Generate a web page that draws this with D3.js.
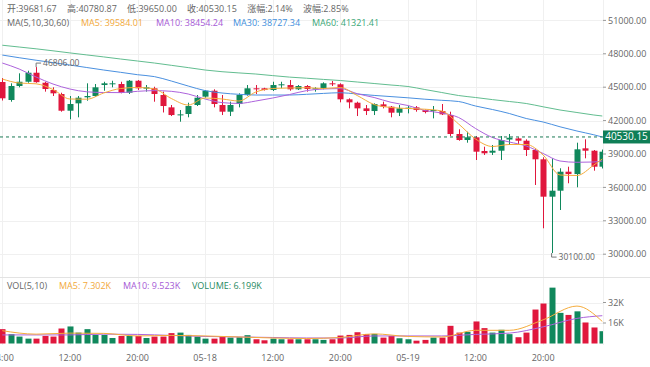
<!DOCTYPE html>
<html><head><meta charset="utf-8">
<script src="https://cdn.jsdelivr.net/npm/d3@7"></script>
<style>
body{margin:0;background:#fff}
svg{display:block}
text{font-family:"Open Sans","Noto Sans CJK SC",sans-serif}
</style>
</head><body>
<svg id="c" width="650" height="367"></svg>
<script>
// ---- data (hourly candles, 05-17 04:00 .. 05-20 03:00) ----
const opens  = [45466,43850,45106,45490,46300,45400,44750,44388,42888,43550,44092,44208,45196,45300,45286,44505,45580,44870,44900,44298,43190,42500,42592,43400,44150,44684,43400,42800,43490,44298,44900,44900,44747,45170,45196,44810,45106,44810,44900,45349,45260,43912,43607,43100,42860,43460,43250,42710,43080,43190,42950,42860,42860,42500,40796,40257,40500,39270,39117,39296,40300,40400,40194,39359,38524,35166,35704,37410,37200,39510,39296,37860];
const highs  = [45825,45349,46247,46480,46806,45490,44990,44505,44208,44208,45349,45286,45490,45580,45490,45645,45645,45196,45043,44600,43400,42950,43607,44298,44747,44810,44298,43700,44450,45196,45196,44950,45490,45490,45645,45196,45196,45000,45440,45560,45349,44000,43700,43400,43550,43700,43310,43400,43310,43310,43000,43310,43490,42800,41218,41000,40616,39655,39808,40616,40796,40500,40320,39510,38704,38614,37716,37860,40015,40320,39359,39400];
const lows   = [43804,43697,44990,45400,45400,44600,44208,42800,42116,42296,43786,44150,44684,44990,44450,44388,44747,44600,43697,42730,42410,41900,42296,43310,44056,43190,42500,42410,43190,44235,44388,44700,44660,44900,44684,44747,44600,44600,44810,45106,43640,43100,42410,42500,42500,43100,42296,42410,42650,42800,42650,42200,42500,40616,40194,40015,38461,38910,38910,38461,39808,39900,38820,36216,32328,30100,33970,36370,36010,38614,37500,37700];
const closes = [44002,45106,45490,46300,45450,44837,44450,42888,43490,44056,44208,44990,45349,45349,44505,45580,44900,44990,44388,43310,42500,42560,43310,44056,44684,43490,42800,43400,44298,44900,44810,44747,45196,45260,44810,45106,44837,44900,45349,45286,43912,43640,43100,42860,43490,43250,42710,43100,43160,42950,42770,42950,42560,40796,40257,40500,39207,39063,39296,40257,40460,40194,39359,38524,35166,35704,37410,37200,39420,39296,37860,39207];
const volumes = [11200,7300,5400,3800,3800,5900,5400,11700,13300,8500,11200,6700,6700,4300,5900,5900,5900,4300,5400,5400,8100,8500,6700,5400,3800,3800,5400,4600,4900,6500,3300,2500,3800,3300,3300,3300,3300,3300,2800,3300,6200,6700,8800,7300,7500,4600,5900,4100,3300,2200,2800,4600,4600,13800,8500,9100,17200,12000,8500,10700,7300,4900,8500,26500,31200,43600,23900,22300,25100,16400,12500,9600];

// moving averages read at sampled candle indices
const maIdx = [0,2,4,6,8,10,12,14,16,18,20,22,24,26,28,30,32,34,36,38,40,42,44,46,48,50,52,54,56,58,60,62,64,66,68,70,71];
const ma5  = [45735,45376,45304,44792,43939,43921,44478,44882,44972,44837,43984,43400,44029,43939,43759,44568,44882,44927,44954,44882,44972,44253,43445,43176,43086,43023,42861,41694,40347,39673,39853,39853,38910,37114,37069,38012,38551];
const ma10 = [47172,46633,45915,45286,44837,44586,44523,44514,44630,44693,44630,44388,43939,43616,43544,43759,44029,44343,44693,44837,44873,44415,44074,43643,43355,42906,42682,42278,41290,40482,40078,39718,39045,38371,38255,38282,38371];
const ma30 = [47888,47648,47423,47208,46992,46768,46543,46337,46122,45951,45555,45106,44693,44478,44361,44298,44298,44298,44361,44442,44505,44388,44262,44155,44047,43921,43822,43715,43310,42996,42637,42188,41874,41443,41065,40724,40527];
const ma60 = [48770,48609,48447,48267,48079,47899,47720,47531,47352,47172,46965,46759,46543,46391,46283,46184,46040,45906,45807,45699,45600,45466,45331,45196,45062,44792,44523,44253,44074,43885,43715,43535,43239,42951,42727,42502,42412];
const volMaIdx = [0,4,8,12,16,20,24,28,32,36,40,44,48,52,56,60,64,68,71];
const volMa5  = [10000,7300,8100,7900,5900,6300,5900,5100,4300,3900,4700,7500,5500,5100,10300,10300,18500,29200,17200];
const volMa10 = [6700,6700,6700,7300,7100,6300,5500,5100,4700,4300,4300,5900,5900,5900,7100,8100,13000,19600,21700];

const xTickIdx = [0,8,16,24,32,40,48,56,64];
const xTickLabels = ["04:00","12:00","20:00","05-18","12:00","20:00","05-19","12:00","20:00"];
const priceTicks = [30000,33000,36000,39000,42000,45000,48000,51000];
const volTicks = [16000,32000];
const volTickLabels = ["16K","32K"];
const lastPrice = 40530.15;
const headerItems = ["开:39681.67","高:40780.87","低:39650.00","收:40530.15","涨幅:2.14%","波幅:2.85%"];
const maLegend = [["MA(5,10,30,60)","#666"],["MA5: 39584.01","#f2a93b"],["MA10: 38454.24","#a65bd6"],["MA30: 38727.34","#3f8fdc"],["MA60: 41321.41","#3aa676"]];
const volLegend = [["VOL(5,10)","#666"],["MA5: 7.302K","#f2a93b"],["MA10: 9.523K","#a65bd6"],["VOLUME: 6.199K","#1f8a5f"]];
const maxLabel = {idx:4, text:"46806.00"};
const minLabel = {idx:65, text:"30100.00"};

// ---- chart ----
const UP="#10885c", DOWN="#e0173d";
const C = {ma5:"#f5ac3c", ma10:"#ad63dc", ma30:"#4a90e0", ma60:"#62bd90"};
const svg = d3.select("#c");
const plotR = 603;
const x = d3.scaleLinear().domain([0,71]).range([2.3,602.3]);
const yP = d3.scaleLinear().domain([30000,51000]).range([254.2,20.4]);
const yV = d3.scaleLinear().domain([0,32000]).range([343.5,302.5]);

const defs = svg.append("defs");
defs.append("clipPath").attr("id","cp").append("rect").attr("x",0).attr("y",0).attr("width",plotR).attr("height",277);
defs.append("clipPath").attr("id","cv").append("rect").attr("x",0).attr("y",277).attr("width",plotR).attr("height",70);

const grid = svg.append("g").attr("stroke","#f0f0f0").attr("stroke-width",1);
priceTicks.forEach(t=>grid.append("line").attr("x1",0).attr("x2",plotR).attr("y1",Math.round(yP(t))+0.5).attr("y2",Math.round(yP(t))+0.5));
volTicks.forEach(t=>grid.append("line").attr("x1",0).attr("x2",plotR).attr("y1",Math.round(yV(t))+0.5).attr("y2",Math.round(yV(t))+0.5));
xTickIdx.forEach(i=>grid.append("line").attr("x1",Math.round(x(i))+0.5).attr("x2",Math.round(x(i))+0.5).attr("y1",0).attr("y2",345));
grid.append("line").attr("x1",plotR+0.5).attr("x2",plotR+0.5).attr("y1",0).attr("y2",345);
svg.append("line").attr("x1",0).attr("x2",650).attr("y1",277.5).attr("y2",277.5).attr("stroke","#e3e3e3");

// axes
const ax = svg.append("g").attr("font-size",9).attr("fill","#666");
priceTicks.forEach(t=>{
  const y = yP(t);
  ax.append("line").attr("x1",plotR).attr("x2",plotR+3).attr("y1",y).attr("y2",y).attr("stroke","#999");
  ax.append("text").attr("x",608).attr("y",y+3.2).text(d3.format(".2f")(t));
});
volTicks.forEach((t,k)=>{
  const y = yV(t);
  ax.append("line").attr("x1",plotR).attr("x2",plotR+3).attr("y1",y).attr("y2",y).attr("stroke","#999");
  ax.append("text").attr("x",608).attr("y",y+3.2).text(volTickLabels[k]);
});
xTickIdx.forEach((i,k)=>ax.append("text").attr("x",x(i)).attr("y",361).attr("text-anchor","middle").text(xTickLabels[k]));

// price pane
const pp = svg.append("g").attr("clip-path","url(#cp)");
const bw = 6;
d3.range(opens.length).forEach(i=>{
  const up = closes[i] >= opens[i];
  const col = up?UP:DOWN;
  const cx = Math.round(x(i))+0.5;
  pp.append("line").attr("x1",cx).attr("x2",cx).attr("y1",yP(highs[i])).attr("y2",yP(lows[i])).attr("stroke",col).attr("stroke-width",1);
  const top = yP(Math.max(opens[i],closes[i])), bot = yP(Math.min(opens[i],closes[i]));
  pp.append("rect").attr("x",cx-bw/2).attr("y",top).attr("width",bw).attr("height",Math.max(1,bot-top)).attr("fill",col);
});
function maLine(g, idx, vals, ys, color){
  const pts = idx.map((d,k)=>[x(d), ys(vals[k])]);
  g.append("path").attr("d",d3.line().curve(d3.curveMonotoneX)(pts)).attr("fill","none").attr("stroke",color).attr("stroke-width",1);
}
maLine(pp, maIdx, ma60, yP, C.ma60);
maLine(pp, maIdx, ma30, yP, C.ma30);
maLine(pp, maIdx, ma10, yP, C.ma10);
maLine(pp, maIdx, ma5, yP, C.ma5);

// last price line & tag
const yl = yP(lastPrice);
svg.append("line").attr("x1",0).attr("x2",plotR).attr("y1",yl).attr("y2",yl).attr("stroke","#1a7a55").attr("stroke-dasharray","3,3");
svg.append("rect").attr("x",plotR).attr("y",yl-6.5).attr("width",47).attr("height",13).attr("fill","#0f7f57");
svg.append("text").attr("x",626.5).attr("y",yl+3.5).attr("text-anchor","middle").attr("font-size",10).attr("fill","#fff").text(d3.format(".2f")(lastPrice));

// max/min annotations
const ann = svg.append("g").attr("font-size",8.5).attr("fill","#666");
{
  const ax0 = x(maxLabel.idx), ay = yP(highs[maxLabel.idx]);
  ann.append("path").attr("d",`M${ax0},${ay}V${ay-4}H${ax0+5}`).attr("fill","none").attr("stroke","#777");
  ann.append("text").attr("x",ax0+7).attr("y",ay-1).text(maxLabel.text);
  const bx = x(minLabel.idx), by = yP(lows[minLabel.idx]);
  ann.append("path").attr("d",`M${bx},${by}V${by+4}H${bx+5}`).attr("fill","none").attr("stroke","#777");
  ann.append("text").attr("x",bx+7).attr("y",by+7).text(minLabel.text);
}

// volume pane
const vp = svg.append("g").attr("clip-path","url(#cv)");
volumes.forEach((v,i)=>{
  const up = closes[i] >= opens[i];
  vp.append("rect").attr("x",Math.round(x(i))+0.5-bw/2).attr("y",yV(v)).attr("width",bw).attr("height",yV(0)-yV(v)).attr("fill",up?UP:DOWN);
});
maLine(vp, volMaIdx, volMa10, yV, C.ma10);
maLine(vp, volMaIdx, volMa5, yV, C.ma5);

// header
const h1 = svg.append("g").attr("font-size",9).attr("fill","#666");
const items = headerItems.map(t=>h1.append("text").attr("y",11.5).text(t));
const widths = items.map(t=>t.node().getComputedTextLength());
const tot = d3.sum(widths.slice(0,5));
const gap = (303-7-tot)/5;
let cxp = 7;
items.forEach((t,k)=>{t.attr("x",cxp); cxp += widths[k]+gap;});
const legX = [7,81,156,233,312];
maLegend.forEach((d,k)=>svg.append("text").attr("x",legX[k]).attr("y",26).attr("font-size",9).attr("fill",d[1]).text(d[0]));
const vlegX = [7,59,123,192];
volLegend.forEach((d,k)=>svg.append("text").attr("x",vlegX[k]).attr("y",288.5).attr("font-size",9).attr("fill",d[1]).text(d[0]));
</script>
</body></html>
